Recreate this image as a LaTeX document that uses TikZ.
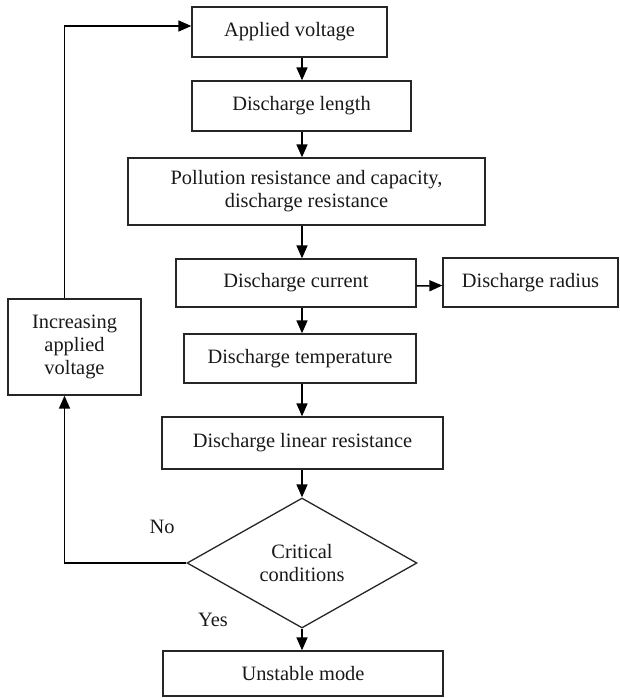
\documentclass[tikz,border=0pt]{standalone}
\usepackage{fontspec}
\setmainfont{Liberation Serif}
\usetikzlibrary{shapes.geometric,arrows.meta}
\begin{document}
\begin{tikzpicture}[x=1pt,y=-1pt,
  font=\fontsize{20.4}{23}\selectfont,
  box/.style={draw=black!85, line width=1.3pt, inner sep=0pt, align=center, text=black!90},
  arr/.style={line width=1.5pt, draw=black, -{Triangle[length=13pt,width=11pt]}},
  ln/.style={line width=1.5pt, draw=black!85},
  lbl/.style={inner sep=0pt, text=black!90}]
\useasboundingbox (0,0) rectangle (620,698);
\node[box, minimum width=195pt, minimum height=50pt] (av) at (289.5,32) {Applied voltage};
\node[box, minimum width=219pt, minimum height=50pt] (dl) at (301.5,106) {Discharge length};
\node[box, minimum width=357pt, minimum height=67pt] (pol) at (306.5,191.5) {Pollution resistance and capacity,\\discharge resistance};
\node[box, minimum width=240pt, minimum height=48pt] (cur) at (296,283) {Discharge current};
\node[box, minimum width=175pt, minimum height=49pt] (rad) at (530.5,282.5) {Discharge radius};
\node[box, minimum width=232pt, minimum height=49pt] (tmp) at (300,358.5) {Discharge temperature};
\node[box, minimum width=281pt, minimum height=52pt] (lin) at (302.5,443) {Discharge linear resistance};
\node[box, diamond, minimum width=230pt, minimum height=130pt, aspect=1.77] (dia) at (302,563) {Critical\\conditions};
\node[box, minimum width=280pt, minimum height=45pt] (un) at (303,673.5) {Unstable mode};
\node[box, minimum width=133pt, minimum height=96pt] (inc) at (74.5,347) {Increasing\\applied\\voltage};
\node[lbl] (no) at (162,527) {No};
\node[lbl] (yes) at (213,620) {Yes};
\coordinate (col) at (302,0);
\coordinate (fb) at (64.5,0);
\draw[arr] (av.south -| col) -- (dl.north -| col);
\draw[arr] (dl.south -| col) -- (pol.north -| col);
\draw[arr] (pol.south -| col) -- (cur.north -| col);
\draw[arr] (cur.south -| col) -- (tmp.north -| col);
\draw[arr] (tmp.south -| col) -- (lin.north -| col);
\draw[arr] (lin.south -| col) -- (dia.north);
\draw[arr] (dia.south) -- (un.north -| dia.south);
\draw[arr] ([yshift=-3pt]cur.east) -- ([yshift=-3pt]rad.west);
\draw[arr] (dia.west) -| (inc.south -| fb);
\draw[arr] (inc.north -| fb) |- ([yshift=6pt]av.west);
\end{tikzpicture}
\end{document}
